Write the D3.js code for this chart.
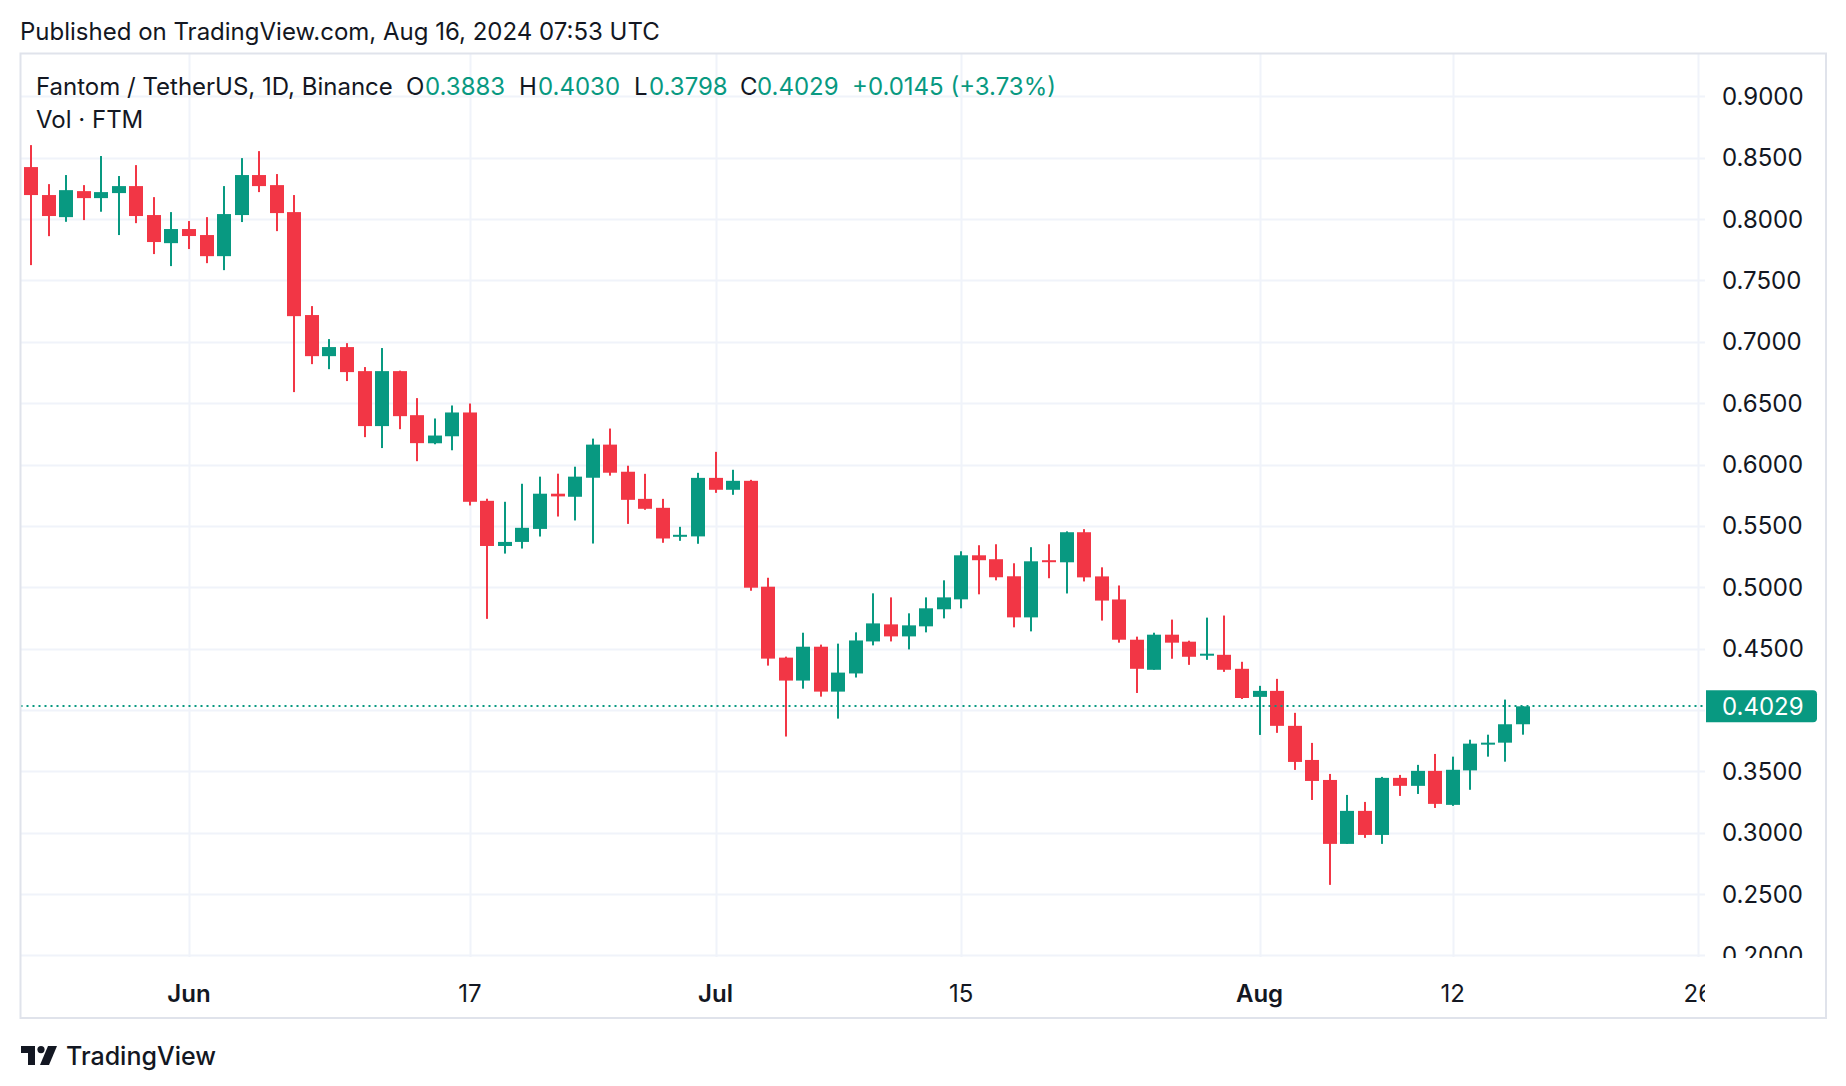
<!DOCTYPE html>
<html><head><meta charset="utf-8">
<script src="https://cdn.jsdelivr.net/npm/d3@7"></script>
<style>
html,body{margin:0;padding:0;background:#fff;}
svg{display:block;font-family:Inter,"Noto Sans",sans-serif;}
</style></head><body>
<svg id="c" width="1846" height="1086"></svg>
<script>
// ---- data (FTM/USDT daily) ----
const dates = ["2024-05-23","2024-05-24","2024-05-25","2024-05-26","2024-05-27","2024-05-28","2024-05-29","2024-05-30","2024-05-31",
"2024-06-01","2024-06-02","2024-06-03","2024-06-04","2024-06-05","2024-06-06","2024-06-07","2024-06-08","2024-06-09","2024-06-10",
"2024-06-11","2024-06-12","2024-06-13","2024-06-14","2024-06-15","2024-06-16","2024-06-17","2024-06-18","2024-06-19","2024-06-20",
"2024-06-21","2024-06-22","2024-06-23","2024-06-24","2024-06-25","2024-06-26","2024-06-27","2024-06-28","2024-06-29","2024-06-30",
"2024-07-01","2024-07-02","2024-07-03","2024-07-04","2024-07-05","2024-07-06","2024-07-07","2024-07-08","2024-07-09","2024-07-10",
"2024-07-11","2024-07-12","2024-07-13","2024-07-14","2024-07-15","2024-07-16","2024-07-17","2024-07-18","2024-07-19","2024-07-20",
"2024-07-21","2024-07-22","2024-07-23","2024-07-24","2024-07-25","2024-07-26","2024-07-27","2024-07-28","2024-07-29","2024-07-30",
"2024-07-31","2024-08-01","2024-08-02","2024-08-03","2024-08-04","2024-08-05","2024-08-06","2024-08-07","2024-08-08","2024-08-09",
"2024-08-10","2024-08-11","2024-08-12","2024-08-13","2024-08-14","2024-08-15","2024-08-16"];
const opens = [0.8424,0.8196,0.8016,0.8228,0.8171,0.8212,0.8269,0.8033,0.7804,
0.7919,0.7870,0.7698,0.8033,0.8359,0.8277,0.8057,0.7218,0.6883,0.6957,
0.6761,0.6313,0.6761,0.6402,0.6173,0.6230,0.6424,0.5704,0.5336,0.5369,
0.5475,0.5762,0.5737,0.5892,0.6162,0.5941,0.5720,0.5647,0.5414,0.5414,
0.5891,0.5794,0.5867,0.5004,0.4426,0.4239,0.4515,0.4149,0.4297,0.4558,
0.4697,0.4599,0.4681,0.4820,0.4901,0.5260,0.5228,0.5089,0.4754,0.5220,
0.5203,0.5448,0.5088,0.4900,0.4572,0.4327,0.4613,0.4556,0.4444,0.4449,
0.4335,0.4106,0.4155,0.3870,0.3592,0.3429,0.2908,0.3177,0.2981,0.3446,
0.3381,0.3503,0.3226,0.3507,0.3719,0.3733,0.3883];
const highs = [0.8603,0.8285,0.8359,0.8277,0.8514,0.8351,0.8440,0.8179,0.8057,
0.7984,0.8016,0.8269,0.8497,0.8554,0.8367,0.8196,0.7291,0.7022,0.6989,
0.6794,0.6949,0.6765,0.6541,0.6375,0.6481,0.6497,0.5721,0.5696,0.5843,
0.5901,0.5925,0.5982,0.6211,0.6293,0.5990,0.5924,0.5720,0.5492,0.5932,
0.6103,0.5957,0.5875,0.5077,0.4434,0.4629,0.4532,0.4540,0.4632,0.4950,
0.4917,0.4787,0.4917,0.5056,0.5293,0.5342,0.5350,0.5195,0.5326,0.5350,
0.5455,0.5473,0.5162,0.5014,0.4597,0.4629,0.4736,0.4564,0.4752,0.4769,
0.4392,0.4196,0.4253,0.3976,0.3731,0.3478,0.3307,0.3250,0.3454,0.3470,
0.3552,0.3641,0.3619,0.3757,0.3798,0.4084,0.4030];
const lows = [0.7625,0.7861,0.7978,0.7992,0.8060,0.7870,0.7967,0.7715,0.7617,
0.7756,0.7641,0.7584,0.7976,0.8220,0.7902,0.6590,0.6818,0.6777,0.6680,
0.6223,0.6134,0.6288,0.6027,0.6165,0.6116,0.5666,0.4742,0.5274,0.5315,
0.5413,0.5576,0.5544,0.5356,0.5909,0.5516,0.5631,0.5362,0.5378,0.5354,
0.5769,0.5753,0.4971,0.4361,0.3783,0.4173,0.4108,0.3929,0.4264,0.4526,
0.4558,0.4493,0.4632,0.4746,0.4828,0.4942,0.5056,0.4673,0.4640,0.5073,
0.4949,0.5047,0.4728,0.4548,0.4138,0.4327,0.4417,0.4367,0.4408,0.4310,
0.4089,0.3796,0.3813,0.3511,0.3266,0.2574,0.2908,0.2957,0.2908,0.3299,
0.3315,0.3201,0.3218,0.3349,0.3619,0.3578,0.3798];
const closes = [0.8196,0.8025,0.8236,0.8171,0.8220,0.8269,0.8025,0.7813,0.7919,
0.7862,0.7698,0.8041,0.8359,0.8269,0.8049,0.7209,0.6883,0.6957,0.6753,
0.6313,0.6761,0.6394,0.6174,0.6236,0.6424,0.5696,0.5336,0.5369,0.5484,
0.5762,0.5740,0.5901,0.6162,0.5933,0.5712,0.5639,0.5397,0.5427,0.5891,
0.5794,0.5867,0.4996,0.4418,0.4239,0.4515,0.4149,0.4304,0.4566,0.4705,
0.4599,0.4689,0.4828,0.4917,0.5260,0.5220,0.5081,0.4754,0.5211,0.5211,
0.5448,0.5080,0.4891,0.4572,0.4335,0.4613,0.4548,0.4433,0.4458,0.4327,
0.4097,0.4155,0.3870,0.3576,0.3421,0.2908,0.3177,0.2981,0.3446,0.3381,
0.3503,0.3234,0.3512,0.3725,0.3733,0.3883,0.4029];

const priceTicks = [0.20,0.25,0.30,0.35,0.40,0.45,0.50,0.55,0.60,0.65,0.70,0.75,0.80,0.85,0.90];
const timeTickDates = ["2024-06-01","2024-06-17","2024-07-01","2024-07-15","2024-08-01","2024-08-12","2024-08-26"];
const timeTickLabels = ["Jun","17","Jul","15","Aug","12","26"];
const monthTick = [true,false,true,false,true,false,false];
const lastPrice = 0.4029;
const headerTitle = "Fantom / TetherUS, 1D, Binance";
const headerOHLC = [["O","0.3883"],["H","0.4030"],["L","0.3798"],["C","0.4029"]];
const headerChange = "+0.0145 (+3.73%)";

// ---- styling / layout ----
const UP="#089981", DOWN="#F23645", TXT="#131722", GRID="#f0f3fa", BORDER="#e0e3eb";
const FS=24;
const box={l:20.5,t:53.5,r:1826,b:1018};
const plot={l:20.5,t:53.5,r:1705,b:957};

const svg=d3.select("#c");
const parse=d3.utcParse("%Y-%m-%d");
const x=d3.scaleUtc().domain([parse("2024-06-01"),parse("2024-08-26")]).range([189,1698.3]);
const y=d3.scaleLinear().domain([0.2,0.9]).range([955.3,96.4]);

svg.append("rect").attr("width",1846).attr("height",1086).attr("fill","#fff");

const defs=svg.append("defs");
defs.append("clipPath").attr("id","plotClip").append("rect")
  .attr("x",plot.l).attr("y",plot.t).attr("width",plot.r-plot.l).attr("height",plot.b-plot.t);
defs.append("clipPath").attr("id","axisClip").append("rect")
  .attr("x",plot.r).attr("y",plot.t).attr("width",box.r-plot.r).attr("height",plot.b-plot.t+1);
defs.append("clipPath").attr("id","timeClip").append("rect")
  .attr("x",plot.l).attr("y",plot.b).attr("width",plot.r-plot.l).attr("height",box.b-plot.b);

// grid
const g=svg.append("g").attr("clip-path","url(#plotClip)");
g.selectAll("line.h").data(priceTicks).join("line")
  .attr("x1",plot.l).attr("x2",plot.r)
  .attr("y1",d=>Math.round(y(d))+0.5).attr("y2",d=>Math.round(y(d))+0.5)
  .attr("stroke",GRID).attr("stroke-width",2);
g.selectAll("line.v").data(timeTickDates).join("line")
  .attr("x1",d=>Math.round(x(parse(d)))+0.5).attr("x2",d=>Math.round(x(parse(d)))+0.5)
  .attr("y1",plot.t).attr("y2",plot.b)
  .attr("stroke",GRID).attr("stroke-width",2);

// header text
const hdr=svg.append("g").attr("font-size",FS).attr("fill",TXT);
hdr.append("text").attr("x",36).attr("y",95).text(headerTitle);
const hx=[[406,425],[519,538],[634,649],[740,757]];
headerOHLC.forEach((p,i)=>{
  hdr.append("text").attr("x",hx[i][0]).attr("y",95).text(p[0]);
  hdr.append("text").attr("x",hx[i][1]).attr("y",95).attr("fill",UP).text(p[1]);
});
hdr.append("text").attr("x",852).attr("y",95).attr("fill",UP).text(headerChange);
hdr.append("text").attr("x",36).attr("y",128).text("Vol · FTM");

// candles
const data=dates.map((d,i)=>({date:parse(d),o:opens[i],h:highs[i],l:lows[i],c:closes[i]}));
const cg=svg.append("g").attr("clip-path","url(#plotClip)");
const bw=14;
const cand=cg.selectAll("g.c").data(data).join("g")
  .attr("fill",d=>d.c>=d.o?UP:DOWN);
cand.append("rect")
  .attr("x",d=>Math.round(x(d.date))-1).attr("width",2)
  .attr("y",d=>y(d.h)).attr("height",d=>Math.max(1,y(d.l)-y(d.h)));
cand.append("rect")
  .attr("x",d=>Math.round(x(d.date))-bw/2).attr("width",bw)
  .attr("y",d=>y(Math.max(d.o,d.c)))
  .attr("height",d=>Math.max(2,Math.abs(y(d.o)-y(d.c))));

// last price dotted line
cg.append("line").attr("x1",plot.l).attr("x2",plot.r)
  .attr("y1",Math.round(y(lastPrice))).attr("y2",Math.round(y(lastPrice)))
  .attr("stroke",UP).attr("stroke-width",2).attr("stroke-dasharray","2 4");

// price axis labels
const pa=svg.append("g").attr("clip-path","url(#axisClip)").attr("font-size",FS).attr("fill",TXT);
pa.selectAll("text").data(priceTicks).join("text")
  .attr("x",1722).attr("y",d=>y(d)).attr("dy","0.36em")
  .text(d=>d3.format(".4f")(d));
const lp=svg.append("g");
lp.append("path")
  .attr("d",()=>{const t=y(lastPrice)-16,b=y(lastPrice)+16,l=1706,r=1817,rr=4;
    return `M${l},${t}H${r-rr}Q${r},${t} ${r},${t+rr}V${b-rr}Q${r},${b} ${r-rr},${b}H${l}Z`;})
  .attr("fill",UP);
lp.append("text").attr("x",1722).attr("y",y(lastPrice)).attr("dy","0.36em")
  .attr("font-size",FS).attr("fill","#fff").text(d3.format(".4f")(lastPrice));

// time axis labels
const ta=svg.append("g").attr("clip-path","url(#timeClip)").attr("font-size",FS).attr("fill",TXT).attr("text-anchor","middle");
ta.selectAll("text").data(timeTickDates).join("text")
  .attr("x",d=>x(parse(d))).attr("y",1002)
  .attr("font-weight",(d,i)=>monthTick[i]?600:400)
  .text((d,i)=>timeTickLabels[i]);

// frame
svg.append("rect").attr("x",box.l).attr("y",box.t).attr("width",box.r-box.l).attr("height",box.b-box.t)
  .attr("fill","none").attr("stroke",BORDER).attr("stroke-width",2);

// top text
svg.append("text").attr("x",20).attr("y",40).attr("font-size",FS).attr("fill",TXT)
  .text("Published on TradingView.com, Aug 16, 2024 07:53 UTC");

// footer logo
const lg=svg.append("g").attr("transform","translate(21,1046)").attr("fill",TXT);
lg.append("path").attr("d","M0,0H14V19H7V7H0Z");
lg.append("circle").attr("cx",20).attr("cy",3.6).attr("r",3.6);
lg.append("path").attr("d","M27,0H36L28,19H19Z");
svg.append("text").attr("x",66).attr("y",1065).attr("font-size",25).attr("font-weight",500)
  .attr("fill",TXT).text("TradingView");
</script>
</body></html>
